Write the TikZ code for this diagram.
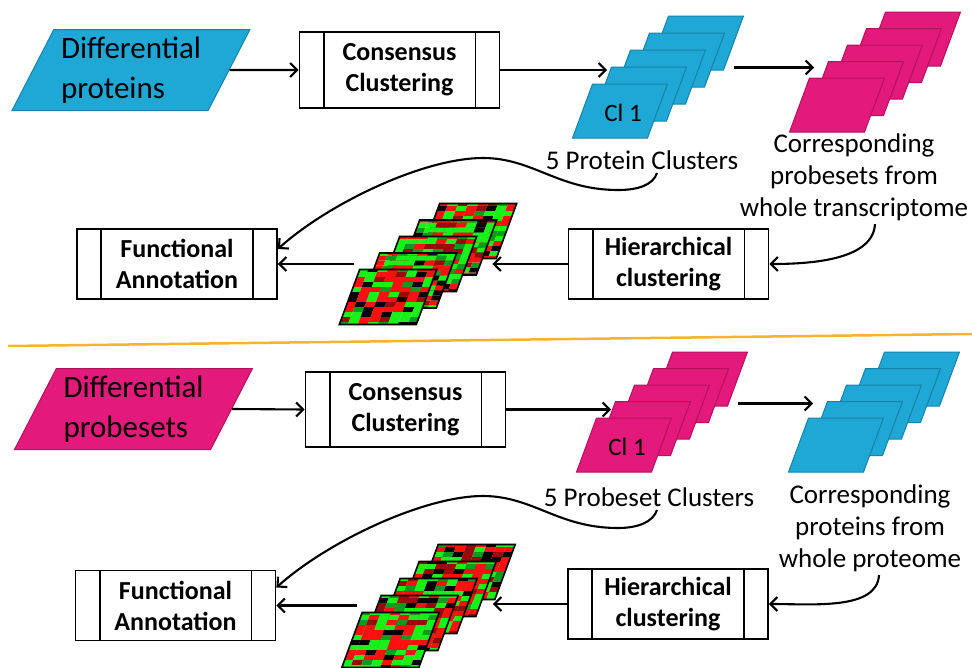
\documentclass[tikz,border=0pt]{standalone}
\usepackage{fontspec}
\setmainfont{Carlito}
\usetikzlibrary{positioning,shapes.geometric,arrows.meta,calc}
\definecolor{cblue}{HTML}{1FA7D5}
\definecolor{cblueline}{HTML}{1683AA}
\definecolor{cpink}{HTML}{E3197B}
\definecolor{cpinkline}{HTML}{B3125F}
\definecolor{sepline}{HTML}{F7B32B}
\definecolor{hmred}{HTML}{FF1010}
\definecolor{hmgreen}{HTML}{19F019}
\definecolor{hmdred}{HTML}{9A0A0A}
\definecolor{hmdgreen}{HTML}{0B9B1F}
\pgfmathdeclarerandomlist{hmcolours}{{hmred}{hmred}{hmred}{hmgreen}{hmgreen}{hmgreen}{black}{hmdred}{hmdgreen}}
\tikzset{
  procbox/.style = {rectangle, draw=black, line width=1.8pt, fill=white,
                    minimum width=200pt, minimum height=70pt, align=center,
                    font=\fontsize{26}{31}\selectfont\bfseries},
  inputbox/.style = {trapezium, trapezium left angle=60, trapezium right angle=120,
                     trapezium stretches body, minimum width=238pt, minimum height=81pt,
                     inner sep=3pt, align=left, line width=1pt,
                     font=\fontsize{31}{40}\selectfont},
  card/.style = {rectangle, xslant=0.37, minimum width=75pt, minimum height=54pt,
                 inner sep=0pt, line width=1pt},
  cltext/.style = {font=\fontsize{25}{30}\selectfont},
  heatmap/.style = {card, draw=black, line width=1.6pt, minimum width=77pt, minimum height=55pt,
                    path picture={
                      \foreach \r in {-6,...,5}
                        \foreach \c in {-6,...,5}{
                          \pgfmathrandomitem{\hmc}{hmcolours}
                          \fill[fill=\hmc] ($(path picture bounding box.center)+(10*\c,5*\r)$) rectangle ++(10,5);
                        }
                    }},
  lbltext/.style = {align=center, font=\fontsize{27}{32}\selectfont},
  arrow/.style = {line width=2.1pt, -{Straight Barb[length=7pt,width=14pt]}}
}
\pgfmathsetseed{11}
\begin{document}
\begin{tikzpicture}[x=1pt, y=-1pt]
\useasboundingbox (0,0) rectangle (972,667);

% proteins first
\node (diffprot) [inputbox, fill=cblue, draw=cblueline] at (131,70) {Differential\\proteins};
\node (consa) [procbox, minimum height=76pt] at (399.5,70) {Consensus\\Clustering};
\foreach \k in {5,4,3,2,1}
  \node (cla\k) [card, fill=cblue, draw=cblueline] at ({620+19*(\k-1)},{111-17*(\k-1)}) {};
\node (cltxta) [cltext] at ($(cla1)+(3,2)$) {Cl 1};
\foreach \k in {5,4,3,2,1}
  \node (cpa\k) [card, fill=cpink, draw=cpinkline] at ({837+19*(\k-1)},{105-16.5*(\k-1)}) {};
\node (nclusa) [lbltext] at (642,160) {5 Protein Clusters};
\node (corra) [lbltext] at (854,177) {Corresponding\\probesets from\\whole transcriptome};
\node (funca) [procbox] at (177,264) {Functional\\Annotation};
\node (hiera) [procbox] at (668.5,264) {Hierarchical\\clustering};
\foreach \k in {5,4,3,2,1}
  \node (hma\k) [heatmap] at ({388+20*(\k-1)},{297-16.5*(\k-1)}) {};

\draw[arrow] (diffprot.east) -- (consa.west);
\draw[arrow] (consa.east) -- ($(consa.east -| cla2.west)+(6,0)$);
\draw[arrow] ($(cla5.south east)+(10,-3)$) -- ($(cla5.south east -| cpa2.west)+(-4,-3)$);
\draw[arrow] ($(nclusa.south)+(15,0)$) .. controls +(-4,12) and +(20,0) .. (618,190)
             .. controls +(-60,0) and +(50,0) .. (483,158)
             .. controls +(-60,0) and +(50,-45) .. ($(funca.east)+(0,-15)$);
\draw[arrow] ($(corra.south)+(21,0)$) .. controls +(-2,35) and +(45,0) .. (hiera.east);
\draw[arrow] (hiera.west) -- ($(hiera.west -| hma3.east)+(25,0)$);
\draw[arrow] ($(funca.east -| hma1.north west)+(-5,0)$) -- (funca.east);

% separator
\draw[sepline, line width=2.5pt] (8,346) -- (972,334);

% probesets first
\node (diffprob) [inputbox, fill=cpink, draw=cpinkline] at (133.5,409) {Differential\\probesets};
\node (consb) [procbox, minimum height=75pt] at (405.5,409.5) {Consensus\\Clustering};
\foreach \k in {5,4,3,2,1}
  \node (clb\k) [card, fill=cpink, draw=cpinkline] at ({624+19*(\k-1)},{445-16.5*(\k-1)}) {};
\node (cltxtb) [cltext] at ($(clb1)+(3,2)$) {Cl 1};
\foreach \k in {5,4,3,2,1}
  \node (cpb\k) [card, fill=cblue, draw=cblueline] at ({836+19*(\k-1)},{445-16.5*(\k-1)}) {};
\node (nclusb) [lbltext] at (649,497) {5 Probeset Clusters};
\node (corrb) [lbltext] at (870,528) {Corresponding\\proteins from\\whole proteome};
\node (funcb) [procbox] at (175.5,605.5) {Functional\\Annotation};
\node (hierb) [procbox] at (668,604) {Hierarchical\\clustering};
\foreach \k in {5,4,3,2,1}
  \node (hmb\k) [heatmap] at ({390.5+19*(\k-1)},{640-17*(\k-1)}) {};

\draw[arrow] (diffprob.east) -- (consb.west);
\draw[arrow] (consb.east) -- ($(consb.east -| clb2.west)+(6,0)$);
\draw[arrow] ($(clb5.south east)+(10,-3)$) -- ($(clb5.south east -| cpb2.west)+(-4,-3)$);
\draw[arrow] ($(nclusb.south)+(8,0)$) .. controls +(-4,12) and +(20,0) .. (618,528)
             .. controls +(-60,0) and +(50,0) .. (483,496)
             .. controls +(-60,0) and +(50,-45) .. ($(funcb.east)+(0,-18)$);
\draw[arrow] ($(corrb.south)+(9,0)$) .. controls +(-2,35) and +(45,0) .. (hierb.east);
\draw[arrow] (hierb.west) -- ($(hierb.west -| hmb3.east)+(25,0)$);
\draw[arrow] ($(funcb.east -| hmb1.north west)+(-5,0)$) -- (funcb.east);

% double sides of the process boxes
\foreach \b in {consa,funca,hiera,consb,funcb,hierb}
  \draw[line width=1.8pt] ([xshift=25pt]\b.north west) -- ([xshift=25pt]\b.south west)
                          ([xshift=-25pt]\b.north east) -- ([xshift=-25pt]\b.south east);

\end{tikzpicture}
\end{document}
